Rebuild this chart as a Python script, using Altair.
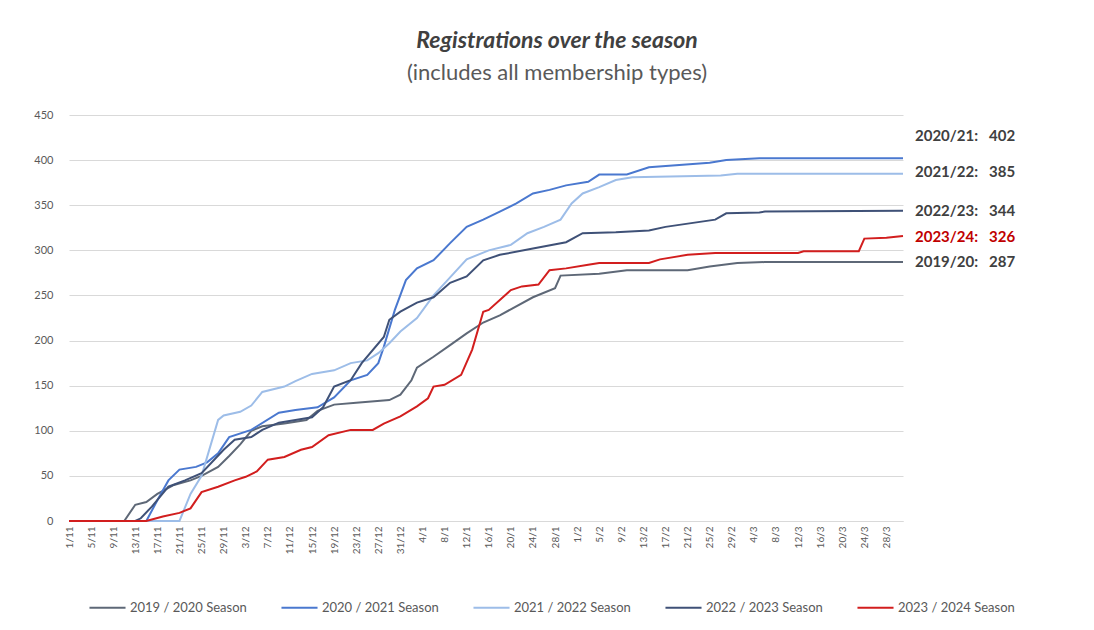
import altair as alt
import pandas as pd

# ---------------- data ----------------
seasons = ["2019 / 2020 Season", "2020 / 2021 Season", "2021 / 2022 Season",
           "2022 / 2023 Season", "2023 / 2024 Season"]
colors = ["#5E6877", "#4A78CF", "#9DBDE8", "#3F5177", "#D21E1E"]

s1920_dates = ["1/11", "11/11", "13/11", "15/11", "17/11", "20/11", "23/11", "25/11", "28/11",
               "30/11", "2/12", "4/12", "6/12", "10/12", "14/12", "16/12", "19/12", "23/12",
               "29/12", "31/12", "2/1", "3/1", "6/1", "9/1", "12/1", "15/1", "18/1", "24/1",
               "28/1", "29/1", "5/2", "10/2", "21/2", "25/2", "1/3", "6/3", "31/3"]
s1920_vals = [0, 0, 18, 21, 30, 40, 45, 50, 60,
              72, 85, 100, 105, 108, 112, 122, 129, 131,
              134, 140, 156, 170, 182, 195, 208, 220, 228, 248,
              258, 272, 274, 278, 278, 282, 286, 287, 287]

s2021_dates = ["1/11", "15/11", "17/11", "19/11", "21/11", "24/11", "26/11", "28/11", "30/11",
               "4/12", "9/12", "12/12", "16/12", "19/12", "22/12", "25/12", "27/12", "28/12",
               "30/12", "1/1", "3/1", "6/1", "9/1", "12/1", "15/1", "18/1", "21/1", "24/1",
               "27/1", "30/1", "3/2", "5/2", "10/2", "14/2", "25/2", "28/2", "5/3", "31/3"]
s2021_vals = [0, 0, 23, 45, 57, 60, 65, 75, 93,
              101, 120, 123, 126, 137, 156, 162, 175, 193,
              234, 267, 280, 289, 308, 326, 334, 343, 352, 363,
              367, 372, 376, 384, 384, 392, 397, 400, 402, 402]

s2122_dates = ["1/11", "21/11", "23/11", "25/11", "28/11", "29/11", "2/12", "4/12", "6/12",
               "10/12", "12/12", "15/12", "19/12", "22/12", "25/12", "27/12", "29/12", "31/12",
               "3/1", "6/1", "9/1", "12/1", "16/1", "20/1", "23/1", "26/1", "29/1", "31/1",
               "2/2", "5/2", "8/2", "11/2", "27/2", "1/3", "31/3"]
s2122_vals = [0, 0, 30, 50, 112, 117, 121, 128, 143,
              149, 155, 163, 167, 175, 178, 186, 197, 210,
              225, 250, 270, 290, 300, 306, 319, 326, 334, 352,
              363, 370, 378, 381, 383, 385, 385]

s2223_dates = ["1/11", "13/11", "14/11", "16/11", "19/11", "22/11", "25/11", "29/11", "1/12",
               "4/12", "6/12", "9/12", "12/12", "15/12", "17/12", "19/12", "22/12", "24/12",
               "28/12", "29/12", "31/12", "3/1", "6/1", "9/1", "12/1", "15/1", "18/1", "24/1",
               "30/1", "2/2", "8/2", "14/2", "17/2", "26/2", "28/2", "5/3", "6/3", "31/3"]
s2223_vals = [0, 0, 3, 16, 38, 45, 53, 79, 90,
              93, 101, 109, 112, 115, 126, 149, 156, 175,
              204, 223, 232, 242, 248, 264, 271, 289, 295, 302,
              309, 319, 320, 322, 326, 334, 341, 342, 343, 344]

s2324_dates = ["1/11", "15/11", "18/11", "21/11", "23/11", "25/11", "28/11", "1/12", "3/12",
               "5/12", "7/12", "10/12", "13/12", "15/12", "18/12", "22/12", "26/12", "28/12",
               "31/12", "3/1", "5/1", "6/1", "8/1", "11/1", "13/1", "15/1", "16/1", "20/1",
               "22/1", "25/1", "27/1", "30/1", "3/2", "5/2", "14/2", "16/2", "21/2", "26/2",
               "12/3", "13/3", "23/3", "24/3", "28/3", "31/3"]
s2324_vals = [0, 0, 5, 9, 14, 32, 38, 45, 49,
              55, 68, 71, 79, 82, 95, 101, 101, 108,
              116, 127, 136, 149, 151, 162, 190, 232, 234, 256,
              260, 262, 278, 280, 284, 286, 286, 290, 295, 297,
              297, 299, 299, 313, 314, 316]

label_names = ["2020/21", "2021/22", "2022/23", "2023/24", "2019/20"]
label_totals = [402, 385, 344, 326, 287]

tick_labels = ["1/11", "5/11", "9/11", "13/11", "17/11", "21/11", "25/11", "29/11", "3/12",
               "7/12", "11/12", "15/12", "19/12", "23/12", "27/12", "31/12", "4/1", "8/1",
               "12/1", "16/1", "20/1", "24/1", "28/1", "1/2", "5/2", "9/2", "13/2", "17/2",
               "21/2", "25/2", "29/2", "4/3", "8/3", "12/3", "16/3", "20/3", "24/3", "28/3"]


def to_date(s):
    d, m = (int(v) for v in s.split("/"))
    return pd.Timestamp(2023 if m >= 11 else 2024, m, d)


series_dates = [s1920_dates, s2021_dates, s2122_dates, s2223_dates, s2324_dates]
series_vals = [s1920_vals, s2021_vals, s2122_vals, s2223_vals, s2324_vals]

rows = []
for name, ds, vs in zip(seasons, series_dates, series_vals):
    for d, v in zip(ds, vs):
        rows.append({"season": name, "date": to_date(d), "value": v})
df = pd.DataFrame(rows)

FONT = "Lato"
GRID = "#D9D9D9"
TXT = "#595959"

tick_values = [alt.DateTime(year=to_date(t).year, month=to_date(t).month, date=to_date(t).day)
               for t in tick_labels]

x_scale = alt.Scale(domain=[alt.DateTime(year=2023, month=11, date=1),
                            alt.DateTime(year=2024, month=3, date=31)])
y_scale = alt.Scale(domain=[0, 450], nice=False)

x_axis = alt.Axis(values=tick_values, format="%-d/%-m", labelAngle=-90,
                  labelFontSize=10, labelColor=TXT, labelFont=FONT,
                  labelOverlap=False, labelBound=False, labelFlush=False,
                  labelPadding=5, ticks=False,
                  grid=False, domain=True, domainColor=GRID, title=None)
y_axis = alt.Axis(values=list(range(0, 451, 50)), labelFontSize=11,
                  labelColor=TXT, labelFont=FONT, labelPadding=16,
                  ticks=False, domain=False, grid=True, gridColor=GRID,
                  gridWidth=1, title=None)

x_enc = alt.X("date:T", scale=x_scale, axis=x_axis)
y_enc = alt.Y("value:Q", scale=y_scale, axis=y_axis)

lines = alt.Chart(df).mark_line(interpolate="linear").encode(
    x=x_enc,
    y=y_enc,
    color=alt.Color("season:N",
                    scale=alt.Scale(domain=seasons, range=colors),
                    legend=alt.Legend(orient="none", legendX=19, legendY=473,
                                      direction="horizontal", columns=5,
                                      symbolType="stroke", symbolSize=1300,
                                      symbolStrokeWidth=4, labelFontSize=13,
                                      labelColor=TXT, labelFont=FONT, title=None,
                                      columnPadding=30, labelOffset=3)),
    strokeWidth=alt.StrokeWidth("season:N",
                                scale=alt.Scale(domain=seasons, range=[2, 2, 2, 2, 3.2]),
                                legend=None),
    order=alt.Order("date:T"),
)

# end-of-line labels
NB = "\u00a0"
label_series = [seasons[1], seasons[2], seasons[3], seasons[4], seasons[0]]
label_dy = [-22, -2, 0, 1, 0]
label_colors = ["#404040", "#404040", "#404040", "#C00000", "#404040"]
layers = [lines]
for name, tot, sname, dy, col in zip(label_names, label_totals, label_series, label_dy, label_colors):
    last = df[df.season == sname].iloc[-1]
    ldf = pd.DataFrame([{"date": last["date"], "value": last["value"],
                         "label": f"{name}:{NB}{NB}{NB}{tot}"}])
    layers.append(
        alt.Chart(ldf).mark_text(align="left", baseline="middle", dx=12, dy=dy,
                                 fontSize=15, fontWeight="bold", font=FONT, color=col)
        .encode(x=x_enc, y=y_enc, text="label:N")
    )

chart = alt.layer(*layers).properties(
    width=834,
    height=406,
    background="white",
    autosize=alt.AutoSizeParams(type="none"),
    padding={"left": 61, "top": 107, "right": 170, "bottom": 100},
    title=alt.TitleParams(
        text="Registrations over the season",
        subtitle="(includes all membership types)",
        font=FONT, fontSize=23, fontStyle="italic", fontWeight="bold", color="#404040",
        subtitleFont=FONT, subtitleFontSize=22, subtitleColor=TXT,
        anchor="middle", dx=71, offset=25, subtitlePadding=10,
    ),
).configure_view(strokeWidth=0, stroke="transparent")

chart.save("out.html", embed_options={"renderer": "svg", "actions": False})
